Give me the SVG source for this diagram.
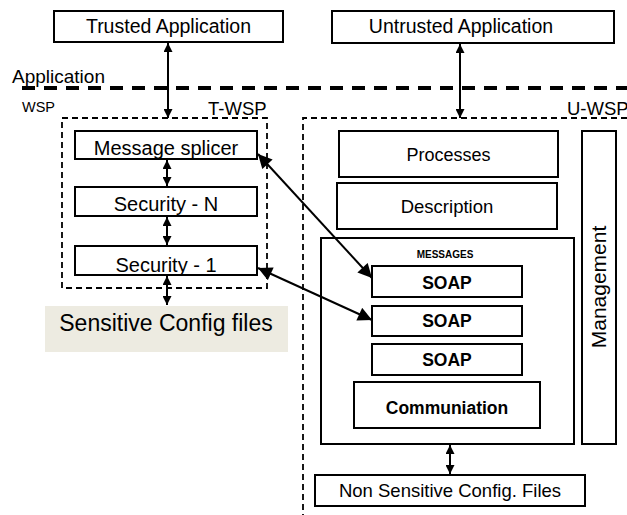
<svg xmlns="http://www.w3.org/2000/svg" width="627" height="515" viewBox="0 0 627 515">
<style>
.box{fill:#fff;stroke:#000;stroke-width:2}
.dash{fill:none;stroke:#000;stroke-width:1.8;stroke-dasharray:6 4}
.t{font-family:"Liberation Sans",Arial,sans-serif;fill:#000;text-anchor:middle}
.b{font-weight:bold}
.conn{stroke:#000;stroke-width:2;fill:none}
</style>
<defs>
<marker id="ah" viewBox="0 0 10 10" refX="10" refY="5" markerWidth="9" markerHeight="9" markerUnits="userSpaceOnUse" orient="auto-start-reverse"><path d="M0,0 L10,5 L0,10 z" fill="#000"/></marker>
<marker id="ahb" viewBox="0 0 10 10" refX="10" refY="5" markerWidth="15" markerHeight="14" markerUnits="userSpaceOnUse" orient="auto-start-reverse"><path d="M0,0 L10,5 L0,10 z" fill="#000"/></marker>
</defs>
<rect width="627" height="515" fill="#fff"/>
<g id="layer-line">
<line x1="22" y1="88" x2="627" y2="88" stroke="#000" stroke-width="4" stroke-dasharray="13 9"/>
<text class="t" x="12" y="83" font-size="19" style="text-anchor:start">Application</text>
<text class="t" x="22" y="112" font-size="14.5" style="text-anchor:start">WSP</text>
</g>
<g id="t-wsp">
<rect class="dash" x="62" y="118" width="205" height="170"/>
<text class="t" x="208" y="115" font-size="18.5" style="text-anchor:start">T-WSP</text>
</g>
<g id="u-wsp">
<path class="dash" d="M303,520 L303,118 L630,118"/>
<text class="t" x="567" y="115" font-size="18.5" style="text-anchor:start">U-WSP</text>
</g>
<g id="trusted-app">
<rect class="box" x="54" y="11" width="229" height="31"/>
<text class="t" x="168.5" y="33" font-size="19.5">Trusted Application</text>
</g>
<g id="untrusted-app">
<rect class="box" x="332" y="11" width="282" height="32"/>
<text class="t" x="461" y="33" font-size="19.5">Untrusted Application</text>
</g>
<g id="message-splicer">
<rect class="box" x="75" y="131" width="182" height="28"/>
<text class="t" x="166" y="155" font-size="20">Message splicer</text>
</g>
<g id="security-n">
<rect class="box" x="75" y="187" width="182" height="29"/>
<text class="t" x="166" y="211" font-size="20">Security - N</text>
</g>
<g id="security-1">
<rect class="box" x="75" y="246" width="182" height="29"/>
<text class="t" x="166" y="271.5" font-size="20">Security - 1</text>
</g>
<g id="sensitive-config">
<rect x="45" y="306" width="243" height="46" fill="#EDEBE1"/>
<text class="t" x="166" y="331" font-size="23">Sensitive Config files</text>
</g>
<g id="processes">
<rect class="box" x="339" y="131" width="219" height="46"/>
<text class="t" x="448.5" y="161" font-size="18">Processes</text>
</g>
<g id="description">
<rect class="box" x="337" y="183" width="220" height="46"/>
<text class="t" x="447" y="212.5" font-size="18.5">Description</text>
</g>
<g id="management">
<rect class="box" x="582" y="131" width="34" height="313"/>
<text class="t" transform="translate(606,287) rotate(-90)" x="0" y="0" font-size="21">Management</text>
</g>
<g id="messages">
<rect class="box" x="321" y="238" width="253" height="206"/>
<text class="t b" x="445" y="257.5" font-size="10">MESSAGES</text>
</g>
<g id="soap-1">
<rect class="box" x="372" y="266" width="150" height="31"/>
<text class="t b" x="447" y="288.5" font-size="17.5">SOAP</text>
</g>
<g id="soap-2">
<rect class="box" x="372" y="306" width="150" height="30"/>
<text class="t b" x="447" y="327" font-size="17.5">SOAP</text>
</g>
<g id="soap-3">
<rect class="box" x="372" y="344" width="150" height="31"/>
<text class="t b" x="447" y="366" font-size="17.5">SOAP</text>
</g>
<g id="communiation">
<rect class="box" x="354" y="382" width="186" height="46"/>
<text class="t b" x="447" y="413.5" font-size="17.5">Communiation</text>
</g>
<g id="non-sensitive-config">
<rect class="box" x="315" y="475" width="270" height="31"/>
<text class="t" x="450" y="497" font-size="18.5">Non Sensitive Config. Files</text>
</g>
<g id="connectors">
<line class="conn" x1="168" y1="43" x2="168" y2="118" marker-start="url(#ah)" marker-end="url(#ah)"/>
<line class="conn" x1="460" y1="44" x2="460" y2="118" marker-start="url(#ah)" marker-end="url(#ah)"/>
<line class="conn" x1="167" y1="160" x2="167" y2="186" marker-start="url(#ah)" marker-end="url(#ah)"/>
<line class="conn" x1="167" y1="217" x2="167" y2="245" marker-start="url(#ah)" marker-end="url(#ah)"/>
<line class="conn" x1="167" y1="276" x2="167" y2="305" marker-start="url(#ah)" marker-end="url(#ah)"/>
<line class="conn" x1="450" y1="445" x2="450" y2="474" marker-start="url(#ah)" marker-end="url(#ah)"/>
<line class="conn" x1="258" y1="154" x2="372" y2="278" marker-start="url(#ahb)" marker-end="url(#ahb)"/>
<line class="conn" x1="258" y1="268" x2="372" y2="320" marker-start="url(#ahb)" marker-end="url(#ahb)"/>
</g>
</svg>
